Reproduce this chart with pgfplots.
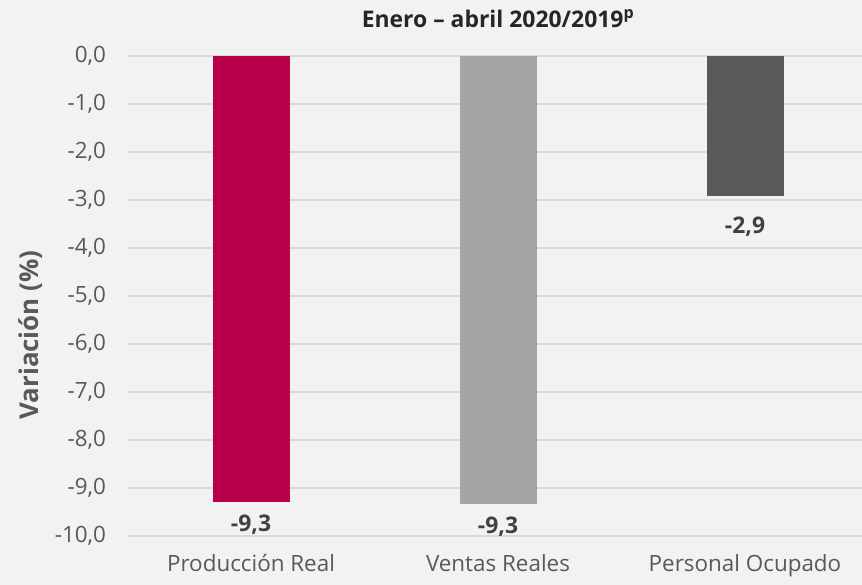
\documentclass[border=0pt]{standalone}
\usepackage{fontspec}
\setmainfont{Open Sans}
\usepackage{pgfplots}
\pgfplotsset{compat=1.18}
\definecolor{bg}{HTML}{F2F2F2}
\definecolor{gridc}{HTML}{D9D9D9}
\definecolor{ticktxt}{HTML}{595959}
\definecolor{lbltxt}{HTML}{404040}
\definecolor{titletxt}{HTML}{262626}
\definecolor{crimson}{HTML}{B9004B}
\definecolor{midgray}{HTML}{A5A5A5}
\definecolor{darkgray}{HTML}{595959}
\begin{document}
\begin{tikzpicture}
\fill[bg] (0,0) rectangle (862bp,585bp);
\begin{axis}[
  at={(127.5bp,49bp)}, anchor=south west,
  scale only axis, width=741bp, height=480bp,
  ymin=-10, ymax=0, ytick={-10,-9,...,0},
  xmin=-0.5, xmax=2.5, xtick={0,1,2},
  xticklabels={Producción Real, Ventas Reales, Personal Ocupado},
  axis line style={draw=none},
  major tick length=0pt,
  ymajorgrids, grid style={gridc, line width=1.4bp},
  ybar, bar width=77bp,
  tick label style={font=\fontsize{22.5}{26}\selectfont, text=ticktxt},
  yticklabel style={xshift=-18bp, /pgf/number format/.cd, fixed, fixed zerofill, precision=1, use comma, assume math mode=true, /tikz/.cd},
  xticklabel style={yshift=-15bp},
  title={\bfseries Enero – abril 2020/2019\textsuperscript{p}},
  title style={at={(0.5,1)}, anchor=center, yshift=31bp, font=\fontsize{23}{27}\selectfont, text=titletxt},
  ylabel={\bfseries Variación (\%)},
  every axis y label/.style={at={([xshift=-97bp,yshift=-39bp]axis description cs:0,0.5)}, anchor=center, rotate=90, font=\fontsize{26}{30}\selectfont, text=ticktxt},
  nodes near coords,
  every node near coord/.append style={font=\fontsize{23}{27}\selectfont\bfseries, text=lbltxt, /pgf/number format/.cd, fixed, fixed zerofill, precision=1, use comma, assume math mode=true, /tikz/.cd},
]
\addplot[fill=crimson, draw=none, bar shift=0pt, every node near coord/.append style={yshift=-9bp}] coordinates {(0,-9.29)};
\addplot[fill=midgray, draw=none, bar shift=0pt, every node near coord/.append style={yshift=-9bp}] coordinates {(1,-9.34)};
\addplot[fill=darkgray, draw=none, bar shift=0pt, every node near coord/.append style={yshift=-17bp}] coordinates {(2,-2.92)};
\end{axis}
\pgfresetboundingbox
\path (0,0) rectangle (862bp,585bp);
\end{tikzpicture}
\end{document}
